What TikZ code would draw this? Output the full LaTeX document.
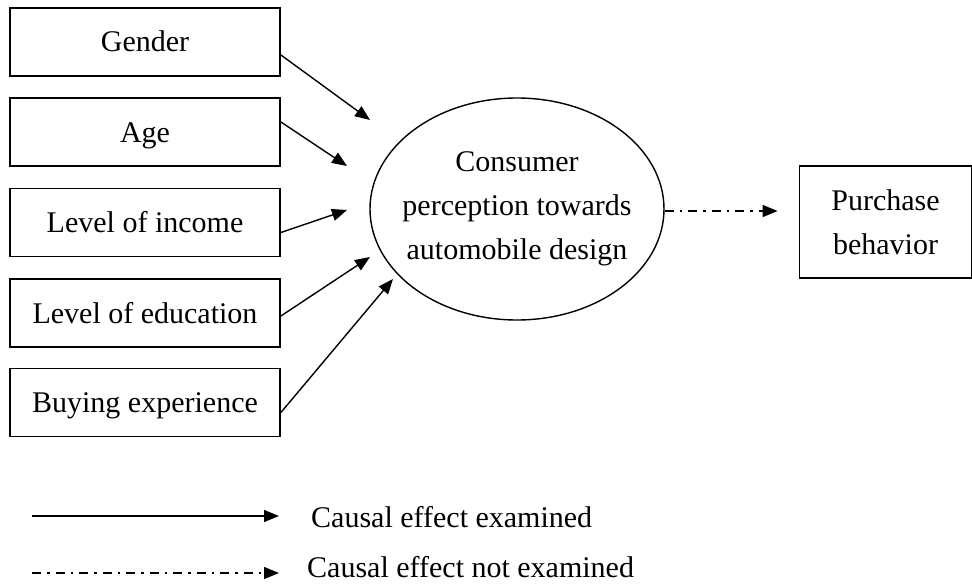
\documentclass[tikz,border=0pt]{standalone}
\usepackage{fontspec}
\setmainfont{Liberation Serif}
\usetikzlibrary{arrows.meta,shapes.geometric}

\begin{document}
\begin{tikzpicture}[
  x=1pt, y=-1pt,
  font=\fontsize{30}{44}\selectfont,
  factor/.style={draw, line width=1.8pt, minimum width=270pt, minimum height=68pt,
                 inner sep=0pt, text height=20pt, text depth=0pt},
  hub/.style={ellipse, draw, line width=1.4pt, minimum width=294pt,
              minimum height=222pt, inner xsep=-14pt, inner ysep=0pt, align=center},
  outcome/.style={draw, line width=1.8pt, minimum width=172pt, minimum height=112pt,
                  inner sep=0pt, align=center},
  ar/.style={-{Triangle[length=15pt,width=12pt]}, line width=1.4pt},
  nx/.style={ar, dash pattern=on 9pt off 6pt on 2.5pt off 6pt},
  lbl/.style={anchor=west, inner sep=0pt, text height=20pt, text depth=0pt},
]
\useasboundingbox (0,0) rectangle (972,586);

%% ================= left column : the factors =================
\node[factor] (gender) at (145,42)    {Gender};
\node[factor] (age)    at (145,132)   {Age};
\node[factor] (income) at (145,222.5) {Level of income};
\node[factor] (educ)   at (145,313)   {Level of education};
\node[factor] (buying) at (145,402.5) {Buying experience};

%% ================= middle : perception =================
\node[hub] (cpd) at (517,209)
  {Consumer\\perception towards\\automobile design};

\coordinate (gtip) at (370,120);
\coordinate (atip) at (347,166);
\coordinate (itip) at (347,210);
\coordinate (etip) at (370,257);
\coordinate (btip) at (393,279);

\foreach \a/\dy/\b in {gender/-13/gtip,age/10/atip,income/-10/itip,educ/-3/etip,buying/-10/btip}
  \draw[ar] ([yshift=\dy pt]\a.east) -- (\b);

%% ================= right : the outcome =================
\node[outcome] (purchase) at (885.5,222) {Purchase\\behavior};

\draw[nx, shorten >=21pt] ([yshift=-2pt]cpd.east) -- ([yshift=-2pt]cpd.east -| purchase.west);

%% ================= legend =================
\coordinate (s0) at (32,516);
\coordinate (s1) at (279,516);
\coordinate (d0) at (32,573);
\coordinate (d1) at (279,573);
\draw[ar] (s0) -- (s1);
\draw[nx] (d0) -- (d1);
\node[lbl] (seen)   at (311,517) {Causal effect examined};
\node[lbl] (unseen) at (307,567) {Causal effect not examined};

\end{tikzpicture}
\end{document}
